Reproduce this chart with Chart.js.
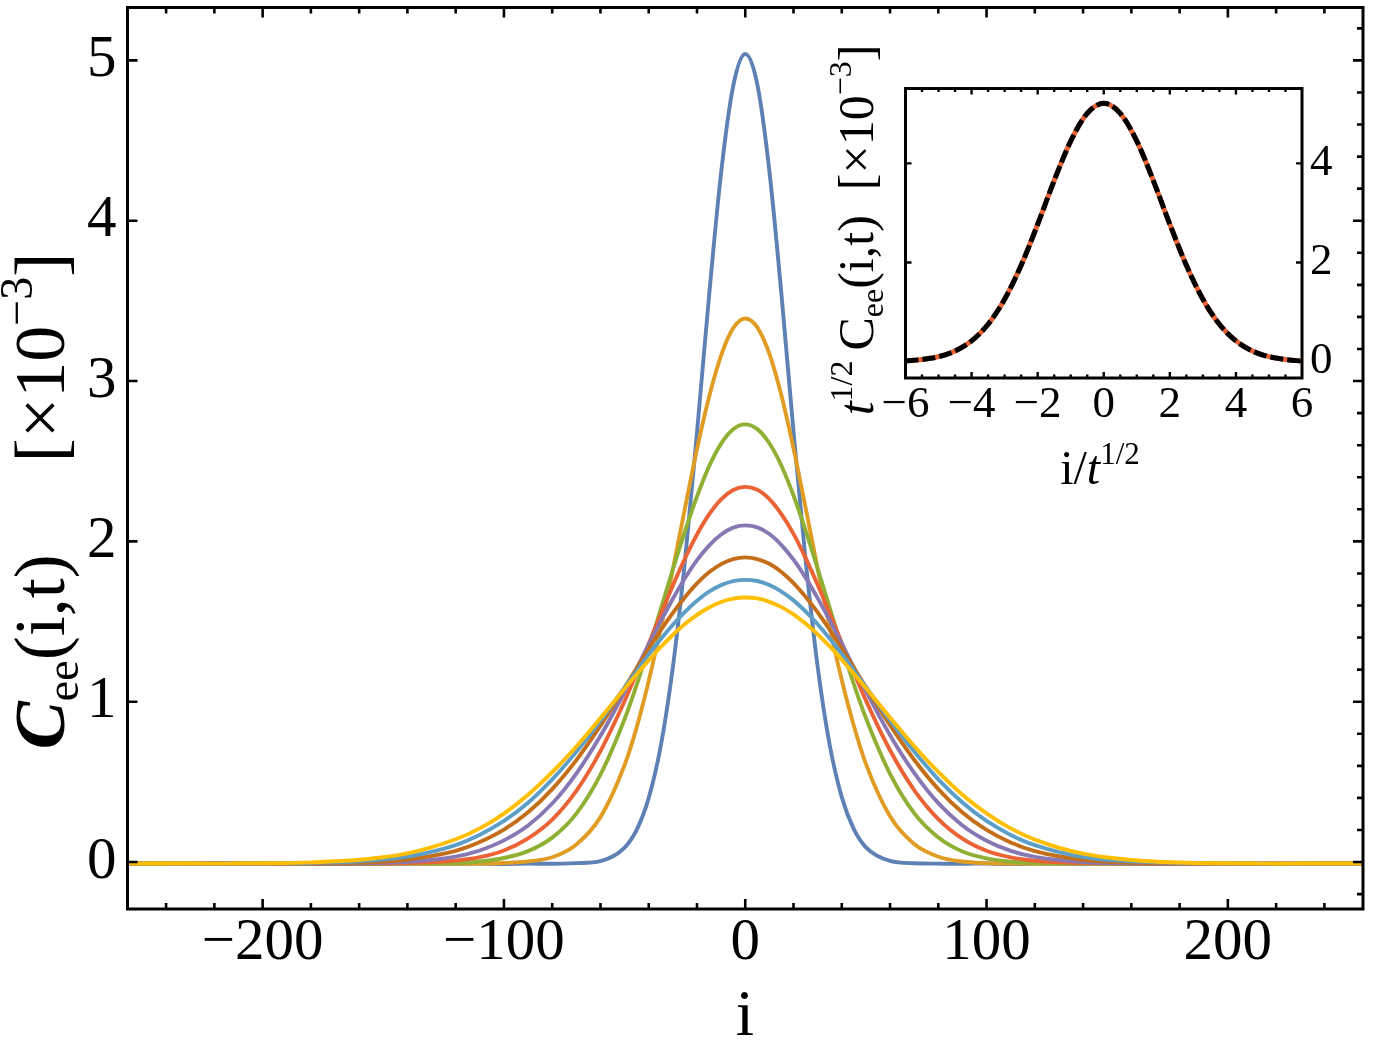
<!DOCTYPE html>
<html><head><meta charset="utf-8">
<script src="https://cdn.jsdelivr.net/npm/chart.js@4.4.0/dist/chart.umd.min.js"></script>
<style>
html,body{margin:0;padding:0;background:#fff;}
#wrap{position:relative;width:1376px;height:1044px;background:#fff;}
#wrap canvas{position:absolute;left:0;top:0;}
</style></head><body>
<div id="wrap"><canvas id="main" width="1376" height="1044"></canvas><canvas id="inset" width="1376" height="1044"></canvas></div>
<script>
// ---------- data ----------
const iGrid = [-256,-240,-220,-200,-180,-160,-140,-120,-110,-100,-90,-80,-70,-60,-50,-45,-40,-35,-30,-25,-20,-15,-10,-5,0,5,10,15,20,25,30,35,40,45,50,60,70,80,90,100,110,120,140,160,180,200,220,240,256];

const cBlue = [-0.01,-0.012,-0.008,-0.011,-0.009,-0.012,-0.01,-0.011,-0.009,-0.012,-0.01,-0.011,-0.007,0.006,0.09,0.2,0.40,0.725,1.215,1.875,2.68,3.53,4.30,4.84,5.04,4.85,4.31,3.54,2.685,1.885,1.22,0.73,0.405,0.205,0.092,0.007,-0.008,-0.01,-0.011,-0.009,-0.012,-0.01,-0.011,-0.009,-0.012,-0.01,-0.011,-0.009,-0.01];
const cOrange = [-0.01,-0.011,-0.009,-0.01,-0.012,-0.009,-0.01,-0.011,-0.01,-0.006,0.004,0.03,0.11,0.28,0.605,0.84,1.13,1.46,1.825,2.205,2.575,2.90,3.16,3.33,3.39,3.335,3.17,2.91,2.58,2.21,1.83,1.465,1.135,0.85,0.612,0.285,0.112,0.033,0.003,-0.007,-0.01,-0.011,-0.009,-0.01,-0.011,-0.01,-0.012,-0.009,-0.01];
const cGreen = [-0.01,-0.009,-0.011,-0.01,-0.01,-0.011,-0.009,-0.006,0.003,0.025,0.068,0.152,0.302,0.545,0.892,1.105,1.335,1.578,1.825,2.062,2.28,2.468,2.61,2.70,2.73,2.70,2.612,2.472,2.286,2.068,1.83,1.585,1.342,1.11,0.898,0.55,0.305,0.153,0.066,0.023,0.002,-0.006,-0.01,-0.011,-0.009,-0.01,-0.011,-0.01,-0.009];
const cRed = [-0.01,-0.011,-0.01,-0.009,-0.011,-0.01,-0.007,0.009,0.03,0.072,0.148,0.265,0.444,0.692,1.004,1.18,1.362,1.545,1.725,1.893,2.043,2.168,2.262,2.32,2.34,2.322,2.264,2.17,2.047,1.897,1.729,1.55,1.366,1.184,1.008,0.697,0.449,0.268,0.146,0.07,0.029,0.008,-0.007,-0.01,-0.011,-0.009,-0.01,-0.011,-0.01];
const cPurple = [-0.01,-0.009,-0.011,-0.01,-0.01,-0.008,0.001,0.034,0.072,0.135,0.228,0.365,0.552,0.787,1.062,1.208,1.358,1.503,1.642,1.77,1.883,1.974,2.043,2.086,2.10,2.087,2.046,1.977,1.886,1.774,1.646,1.507,1.362,1.213,1.067,0.791,0.556,0.367,0.228,0.133,0.07,0.032,0.0,-0.008,-0.01,-0.011,-0.01,-0.009,-0.01];
const cBrown = [-0.01,-0.011,-0.01,-0.009,-0.009,-0.004,0.016,0.07,0.125,0.202,0.31,0.455,0.636,0.851,1.087,1.209,1.33,1.446,1.554,1.652,1.738,1.807,1.858,1.889,1.90,1.89,1.86,1.809,1.74,1.655,1.557,1.449,1.333,1.213,1.09,0.854,0.638,0.455,0.309,0.2,0.122,0.068,0.014,-0.004,-0.009,-0.01,-0.011,-0.01,-0.01];
const cLightBlue = [-0.01,-0.01,-0.011,-0.009,-0.006,0.005,0.034,0.106,0.17,0.256,0.37,0.515,0.687,0.881,1.089,1.192,1.295,1.391,1.48,1.56,1.63,1.686,1.727,1.752,1.76,1.753,1.728,1.687,1.632,1.563,1.483,1.394,1.298,1.196,1.093,0.884,0.689,0.516,0.371,0.256,0.169,0.105,0.031,0.004,-0.006,-0.009,-0.01,-0.011,-0.01];
const cYellow = [-0.01,-0.009,-0.01,-0.008,-0.002,0.014,0.054,0.142,0.21,0.302,0.419,0.56,0.721,0.898,1.081,1.171,1.258,1.341,1.417,1.484,1.542,1.588,1.622,1.643,1.65,1.644,1.623,1.59,1.545,1.487,1.42,1.345,1.262,1.175,1.085,0.902,0.724,0.562,0.42,0.303,0.21,0.14,0.052,0.013,-0.003,-0.008,-0.01,-0.009,-0.01];

const seriesValues = [cBlue,cOrange,cGreen,cRed,cPurple,cBrown,cLightBlue,cYellow];
const seriesColors = ['#5E81B5','#E19C24','#8FB032','#EB6235','#8778B3','#C56E1A','#5D9EC7','#FFBF00'];

const xTickLabels = [-200,-100,0,100,200];
const yTickLabels = [0,1,2,3,4,5];

// inset (scaled collapse)
const insetX = [-6,-5.5,-5,-4.5,-4,-3.5,-3,-2.5,-2,-1.5,-1,-0.5,0,0.5,1,1.5,2,2.5,3,3.5,4,4.5,5,5.5,6];
const insetData = [0.012,0.044,0.1,0.214,0.418,0.754,1.259,1.943,2.772,3.653,4.45,5.008,5.21,5.008,4.45,3.653,2.772,1.943,1.259,0.754,0.418,0.214,0.1,0.044,0.01];
const insetScaling = [0.012,0.044,0.1,0.214,0.418,0.754,1.259,1.943,2.772,3.653,4.45,5.008,5.21,5.008,4.45,3.653,2.772,1.943,1.259,0.754,0.418,0.214,0.1,0.044,0.01];
const insetXTickLabels = [-6,-4,-2,0,2,4,6];
const insetYTickLabels = [0,2,4];

// ---------- helpers ----------
const SERIF = '"Liberation Serif", "Times New Roman", serif';
const fmt = v => (v < 0 ? '\u2212' + Math.abs(v) : String(v));

function drawRich(ctx, parts, cx, cy, rotate) {
  ctx.save();
  ctx.translate(cx, cy);
  if (rotate) ctx.rotate(-Math.PI / 2);
  ctx.textBaseline = 'alphabetic';
  ctx.textAlign = 'left';
  ctx.fillStyle = '#000';
  let w = 0;
  parts.forEach(p => {
    if (p.font) ctx.font = p.font;
    p.w = (p.t ? ctx.measureText(p.t).width : 0) + (p.gap || 0);
    w += p.w;
  });
  let x = -w / 2;
  parts.forEach(p => {
    if (p.t) { ctx.font = p.font; ctx.fillText(p.t, x, p.dy || 0); }
    x += p.w;
  });
  ctx.restore();
}

function rangeStep(a, b, s) { const r = []; for (let v = a; v <= b + 1e-9; v += s) r.push(Math.round(v * 1000) / 1000); return r; }

function frameAndTicks(chart, cfg) {
  const ctx = chart.ctx, a = chart.chartArea;
  const xs = chart.scales.x, ys = chart.scales.y;
  ctx.save();
  ctx.strokeStyle = '#000';
  ctx.lineWidth = cfg.tickWidth;
  ctx.lineCap = 'butt';
  ctx.beginPath();
  cfg.xTicks.forEach(([v, len, sides]) => {
    const px = xs.getPixelForValue(v);
    if (sides.includes('b')) { ctx.moveTo(px, a.bottom); ctx.lineTo(px, a.bottom - len); }
    if (sides.includes('t')) { ctx.moveTo(px, a.top); ctx.lineTo(px, a.top + len); }
  });
  cfg.yTicks.forEach(([v, len, sides]) => {
    const py = ys.getPixelForValue(v);
    if (sides.includes('l')) { ctx.moveTo(a.left, py); ctx.lineTo(a.left + len, py); }
    if (sides.includes('r')) { ctx.moveTo(a.right, py); ctx.lineTo(a.right - len, py); }
  });
  ctx.stroke();
  ctx.lineWidth = cfg.frameWidth;
  ctx.lineJoin = 'miter';
  ctx.strokeRect(a.left, a.top, a.right - a.left, a.bottom - a.top);
  ctx.restore();
}

function fixFit(w, h) {
  return s => { if (w !== null) s.width = w; if (h !== null) s.height = h; s.paddingLeft = 0; s.paddingRight = 0; s.paddingTop = 0; s.paddingBottom = 0; };
}

// ---------- main chart ----------
const mainXTicks = [];
rangeStep(-240, 240, 20).forEach(v => mainXTicks.push([v, (v % 100 === 0) ? 10 : 6, 'bt']));
const mainYTicks = [];
yTickLabels.forEach(v => mainYTicks.push([v, 10, 'lr']));
rangeStep(-0.2, 5.2, 0.2).forEach(v => { if (Math.abs(v - Math.round(v)) > 1e-6) mainYTicks.push([v, 6, 'r']); });

const mainPlugin = {
  id: 'mainDeco',
  afterDraw(chart) {
    frameAndTicks(chart, { xTicks: mainXTicks, yTicks: mainYTicks, tickWidth: 2.6, frameWidth: 3 });
    const ctx = chart.ctx;
    drawRich(ctx, [
      { t: 'C', font: `italic bold 72px ${SERIF}` },
      { t: 'ee', font: `46px ${SERIF}`, dy: 14 },
      { t: '(i,t)', font: `72px ${SERIF}` },
      { gap: 92 },
      { t: '[\u00D710', font: `72px ${SERIF}` },
      { t: '\u22123', font: `46px ${SERIF}`, dy: -32 },
      { t: ']', font: `72px ${SERIF}` }
    ], 64, 501, true);
    drawRich(ctx, [{ t: 'i', font: `66px ${SERIF}` }], 745, 1035, false);
  }
};

new Chart(document.getElementById('main'), {
  type: 'line',
  data: {
    datasets: seriesValues.map((vals, k) => ({
      data: iGrid.map((x, j) => ({ x: x, y: vals[j] })),
      borderColor: seriesColors[k],
      borderWidth: 3.9,
      pointRadius: 0,
      fill: false,
      cubicInterpolationMode: 'monotone',
      borderJoinStyle: 'round',
      order: seriesValues.length - k
    }))
  },
  options: {
    responsive: false,
    animation: false,
    devicePixelRatio: 1,
    layout: { padding: { left: 0, right: 13, top: 7.5, bottom: 0 } },
    plugins: { legend: { display: false }, tooltip: { enabled: false }, title: { display: false } },
    scales: {
      x: {
        type: 'linear', position: 'bottom', min: -256, max: 256,
        afterBuildTicks: s => { s.ticks = xTickLabels.map(v => ({ value: v })); },
        afterFit: fixFit(null, 135),
        grid: { display: false, drawTicks: false },
        border: { display: false },
        ticks: { color: '#000', padding: 5, maxRotation: 0, autoSkip: false, callback: fmt,
                 font: { family: SERIF, size: 59, lineHeight: 1 } }
      },
      y: {
        type: 'linear', position: 'left', min: -0.293, max: 5.33,
        afterBuildTicks: s => { s.ticks = yTickLabels.map(v => ({ value: v })); },
        afterFit: fixFit(127.5, null),
        grid: { display: false, drawTicks: false },
        border: { display: false },
        ticks: { color: '#000', padding: 11, autoSkip: false, callback: fmt,
                 font: { family: SERIF, size: 59, lineHeight: 1 } }
      }
    }
  },
  plugins: [mainPlugin]
});

// ---------- inset chart ----------
const insetXT = [];
rangeStep(-5.5, 5.5, 0.5).forEach(v => insetXT.push([v, (Math.abs(v % 2) < 1e-6) ? 6 : 3.5, 'bt']));
const insetYT = insetYTickLabels.map(v => [v, 6, 'lr']);

const insetPlugin = {
  id: 'insetDeco',
  beforeDraw(chart) {
    const a = chart.chartArea, ctx = chart.ctx;
    ctx.save(); ctx.fillStyle = '#fff'; ctx.fillRect(a.left, a.top, a.right - a.left, a.bottom - a.top); ctx.restore();
  },
  afterDraw(chart) {
    frameAndTicks(chart, { xTicks: insetXT, yTicks: insetYT, tickWidth: 2.4, frameWidth: 3 });
    const ctx = chart.ctx;
    drawRich(ctx, [
      { t: 'i/', font: `48px ${SERIF}` },
      { t: 't', font: `italic 48px ${SERIF}` },
      { t: '1/2', font: `31px ${SERIF}`, dy: -20 }
    ], 1100, 484, false);
    drawRich(ctx, [
      { t: 't', font: `italic 50px ${SERIF}` },
      { t: '1/2', font: `32px ${SERIF}`, dy: -21 },
      { gap: 10 },
      { t: 'C', font: `50px ${SERIF}` },
      { t: 'ee', font: `32px ${SERIF}`, dy: 10 },
      { t: '(i,t)', font: `50px ${SERIF}` },
      { gap: 25 },
      { t: '[\u00D710', font: `50px ${SERIF}` },
      { t: '\u22123', font: `32px ${SERIF}`, dy: -22 },
      { t: ']', font: `50px ${SERIF}` }
    ], 873, 230, true);
  }
};

new Chart(document.getElementById('inset'), {
  type: 'line',
  data: {
    datasets: [
      { data: insetX.map((x, j) => ({ x: x, y: insetScaling[j] })), borderColor: '#000', borderWidth: 5,
        borderDash: [13, 4], pointRadius: 0, cubicInterpolationMode: 'monotone', order: 1 },
      { data: insetX.map((x, j) => ({ x: x, y: insetData[j] })), borderColor: '#EB6235', borderWidth: 5,
        pointRadius: 0, cubicInterpolationMode: 'monotone', order: 2 }
    ]
  },
  options: {
    responsive: false,
    animation: false,
    devicePixelRatio: 1,
    layout: { padding: { left: 905.5, right: 0, top: 88.5, bottom: 0 } },
    plugins: { legend: { display: false }, tooltip: { enabled: false } },
    scales: {
      x: {
        type: 'linear', position: 'bottom', min: -6, max: 6,
        afterBuildTicks: s => { s.ticks = insetXTickLabels.map(v => ({ value: v })); },
        afterFit: fixFit(null, 666),
        grid: { display: false, drawTicks: false },
        border: { display: false },
        ticks: { color: '#000', padding: 5, maxRotation: 0, autoSkip: false, callback: fmt,
                 font: { family: SERIF, size: 45, lineHeight: 1 } }
      },
      y: {
        type: 'linear', position: 'right', min: -0.33, max: 5.51,
        afterBuildTicks: s => { s.ticks = insetYTickLabels.map(v => ({ value: v })); },
        afterFit: fixFit(74, null),
        grid: { display: false, drawTicks: false },
        border: { display: false },
        ticks: { color: '#000', padding: 8, autoSkip: false, callback: fmt,
                 font: { family: SERIF, size: 45, lineHeight: 1 } }
      }
    }
  },
  plugins: [insetPlugin]
});
</script>
</body></html>
